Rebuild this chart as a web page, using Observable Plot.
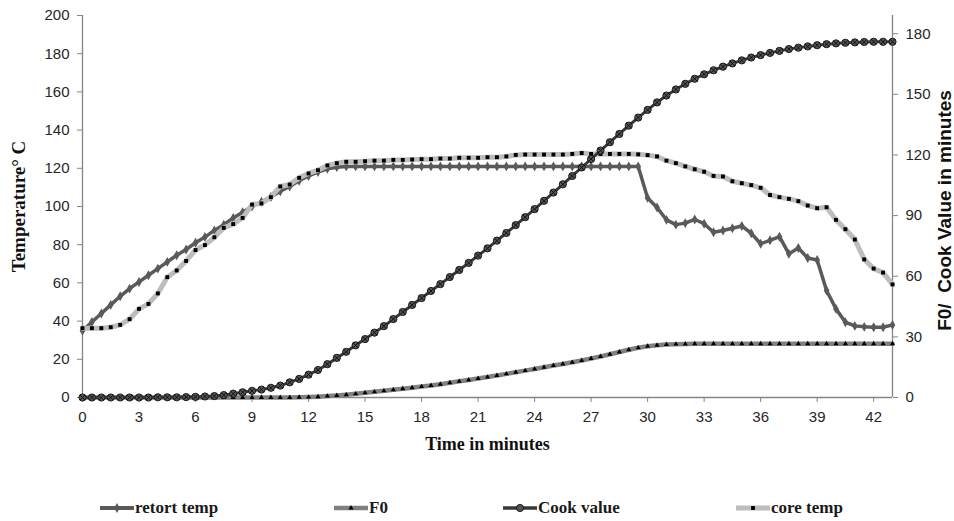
<!DOCTYPE html>
<html><head><meta charset="utf-8">
<script src="https://cdn.jsdelivr.net/npm/d3@7"></script>
<script src="https://cdn.jsdelivr.net/npm/@observablehq/plot@0.6"></script>
<style>
body{margin:0;background:#fff;}
#wrap{position:relative;width:954px;height:521px;overflow:hidden;}
#legend{position:absolute;left:0;top:496px;width:954px;height:24px;font:bold 17px "Liberation Serif",serif;color:#1a1a1a;}
.item{position:absolute;top:0;height:24px;display:flex;align-items:center;white-space:nowrap;}
.item svg{display:block;margin-right:1px;}
</style></head><body>
<div id="wrap"><div id="chart"></div><div id="legend"></div></div>
<script>
// ---- data ----
const time = [0,0.5,1,1.5,2,2.5,3,3.5,4,4.5,5,5.5,6,6.5,7,7.5,8,8.5,9,9.5,10,10.5,11,11.5,12,12.5,13,13.5,14,14.5,15,15.5,16,16.5,17,17.5,18,18.5,19,19.5,20,20.5,21,21.5,22,22.5,23,23.5,24,24.5,25,25.5,26,26.5,27,27.5,28,28.5,29,29.5,30,30.5,31,31.5,32,32.5,33,33.5,34,34.5,35,35.5,36,36.5,37,37.5,38,38.5,39,39.5,40,40.5,41,41.5,42,42.5,43];
const retortTemp = [35,39.5,44,48.5,53,57,60.5,64,67.5,71,74.5,77.5,81,84,87.5,90.5,94,97,100,102.5,105,108,110.5,113.5,116,118,119.7,120.6,
  121,121,121,121,121,121,121,121,121,121,121,121,121,121,121,121,121,121,121,121,121,121,121,121,121,121,121,121,121,121,121,121,
  104.5,99.5,93,90.5,91.3,93.2,91,86.5,87.4,88.6,89.8,86,80.5,82.3,84.2,75.2,78.3,73,72,56,46.4,39.4,37.5,37,36.8,36.8,38];
const coreTemp = [36.3,36.3,36.3,36.8,38,41,46.4,49,54.5,63,66.5,71.5,77.2,79.8,83.9,88.8,90.8,94,101,101.6,104.9,110.5,111.5,115,117.3,119,121.5,122.7,
  123.4,123.4,123.7,124,124,124.4,124.4,124.6,124.8,124.8,125.1,125.1,125.5,125.5,125.5,125.8,125.8,126.2,127,127.2,127.2,127.2,127.2,127.2,127.5,128,127.5,127.5,127.5,127.5,127.5,127.3,
  126.9,126.2,124,122.7,121,119.5,118.2,116,115.7,113.2,112.2,111.2,109.8,106,104.9,104,102.8,100.5,99.1,99.6,93,88.1,82.7,72.3,67.5,65.4,59.2];
const f0 = [0,0,0,0,0,0,0,0,0,0,0,0,0,0,0,0,0,0,0,0,0,0,0,
  0.1,0.2,0.4,0.7,1.0,1.4,1.8,2.3,2.8,3.3,3.8,4.3,4.8,5.4,5.9,6.6,7.3,8.0,8.7,9.4,10.1,10.9,11.7,12.5,13.3,14.1,15.0,15.8,16.6,17.4,18.3,19.3,20.3,21.4,22.5,23.6,24.6,25.4,25.9,26.2,26.4,26.5,
  26.6,26.6,26.6,26.6,26.6,26.6,26.6,26.6,26.6,26.6,26.6,26.6,26.6,26.6,26.6,26.6,26.6,26.6,26.6,26.6,26.6,26.6];
const cookValue = [0,0,0,0,0,0,0,0,0.1,0.1,0.1,0.2,0.3,0.5,0.7,1.2,1.9,2.6,3.3,3.9,4.8,5.9,7.5,9.2,11.3,13.6,16.5,19.6,22.6,25.8,28.9,32.1,35.3,38.8,42.3,45.8,49.2,52.7,56.1,59.6,63.1,66.6,70.2,73.8,77.6,81.4,85.3,89.2,93.2,97.3,101.4,105.5,109.6,113.8,118,122.2,126.3,130.4,134.5,138.5,142.3,146,149.4,152.4,155.2,157.7,159.9,161.9,163.7,165.3,166.8,168.2,169.4,170.5,171.5,172.4,173.1,173.7,174.3,174.8,175.2,175.5,175.7,175.9,176,176,176];
const xTicks = [0,3,6,9,12,15,18,21,24,27,30,33,36,39,42];
const leftTicks = [0,20,40,60,80,100,120,140,160,180,200];
const rightTicks = [0,30,60,90,120,150,180];
const xDomain = [0,43];
const leftDomain = [0,200];
const rightDomain = [0,189];
const seriesNames = ["retort temp","F0","Cook value","core temp"];

// ---- build ----
const k = leftDomain[1] / rightDomain[1];
const rows = time.map((t,i) => ({t, retort: retortTemp[i], core: coreTemp[i], f0: f0[i] * k, cook: cookValue[i] * k}));
const axisColor = "#868686";
const C = {retort:"#5a5a5a", f0:"#808080", cook:"#383838", core:"#bdbdbd"};

const chart = Plot.plot({
  width: 954, height: 460,
  marginLeft: 82, marginRight: 62, marginTop: 15, marginBottom: 63,
  x: {domain: xDomain},
  y: {domain: leftDomain},
  style: {fontFamily: "Liberation Sans, Arial, sans-serif", fontSize: "15px", color: "#222", background: "#fff"},
  marks: [
    Plot.ruleX(xDomain, {stroke: axisColor, strokeWidth: 1.3}),
    Plot.ruleY([leftDomain[0]], {stroke: axisColor, strokeWidth: 1.3}),
    Plot.axisY(leftTicks, {anchor: "left", tickSize: 5, tickPadding: 8, stroke: axisColor, fill: "#262626", label: null}),
    Plot.axisY(rightTicks.map(v => v * k), {anchor: "right", tickSize: 5, tickPadding: 8, stroke: axisColor, fill: "#262626", label: null,
      tickFormat: d => String(Math.round(d / k))}),
    Plot.axisX(xTicks, {anchor: "bottom", tickSize: 5, tickPadding: 9, stroke: axisColor, fill: "#262626", label: null}),
    // primary axis series
    Plot.line(rows, {x: "t", y: "retort", stroke: C.retort, strokeWidth: 3.5}),
    Plot.dot(rows, {x: "t", y: "retort", symbol: "diamond", r: 3, fill: C.retort}),
    Plot.line(rows, {x: "t", y: "core", stroke: C.core, strokeWidth: 5}),
    Plot.dot(rows, {x: "t", y: "core", symbol: "square", r: 2.2, fill: "#000"}),
    // secondary axis series
    Plot.line(rows, {x: "t", y: "f0", stroke: C.f0, strokeWidth: 4.5}),
    Plot.dot(rows, {x: "t", y: "f0", symbol: "triangle", r: 1.9, fill: "#000"}),
    Plot.line(rows, {x: "t", y: "cook", stroke: C.cook, strokeWidth: 3}),
    Plot.dot(rows, {x: "t", y: "cook", symbol: "circle", r: 3.6, fill: "#555", stroke: "#1a1a1a", strokeWidth: 1}),
    Plot.dot(rows, {x: "t", y: "cook", symbol: "times", r: 2.4, stroke: "#111", strokeWidth: 1}),
    // titles
    Plot.text(["Temperature° C"], {text: d => d, frameAnchor: "left", textAnchor: "middle", rotate: -90, dx: -64, dy: 0,
      fontFamily: "Liberation Serif, serif", fontWeight: "bold", fontSize: 19, fill: "#111"}),
    Plot.text(["Time in minutes"], {text: d => d, frameAnchor: "bottom", textAnchor: "middle", dy: 52,
      fontFamily: "Liberation Serif, serif", fontWeight: "bold", fontSize: 18, fill: "#111"}),
    Plot.text(["F0/  Cook Value in minutes"], {text: d => d, frameAnchor: "right", textAnchor: "middle", rotate: -90, dx: 52, dy: 4,
      fontFamily: "Liberation Sans, Arial, sans-serif", fontWeight: "bold", fontSize: 19, fill: "#111"})
  ]
});
document.getElementById("chart").appendChild(chart);

// ---- legend ----
const legendSpec = [
  {name: seriesNames[0], left: 100, line: C.retort, lw: 4, sym: d3.symbolDiamond, size: 28, fill: C.retort, stroke: "none"},
  {name: seriesNames[1], left: 334, line: C.f0, lw: 4.5, sym: d3.symbolTriangle, size: 12, fill: "#000", stroke: "none"},
  {name: seriesNames[2], left: 503, line: C.cook, lw: 3.5, sym: d3.symbolCircle, size: 40, fill: "#555", stroke: "#1a1a1a"},
  {name: seriesNames[3], left: 736, line: C.core, lw: 5, sym: d3.symbolSquare, size: 15, fill: "#000", stroke: "none"}
];
const legend = d3.select("#legend");
for (const s of legendSpec) {
  const it = legend.append("div").attr("class", "item").style("left", s.left + "px");
  const svg = it.append("svg").attr("width", 34).attr("height", 14);
  svg.append("line").attr("x1", 0).attr("x2", 34).attr("y1", 7).attr("y2", 7).attr("stroke", s.line).attr("stroke-width", s.lw);
  svg.append("path").attr("transform", "translate(17,7)").attr("d", d3.symbol(s.sym, s.size)()).attr("fill", s.fill).attr("stroke", s.stroke);
  it.append("span").text(s.name);
}
</script>
</body></html>
